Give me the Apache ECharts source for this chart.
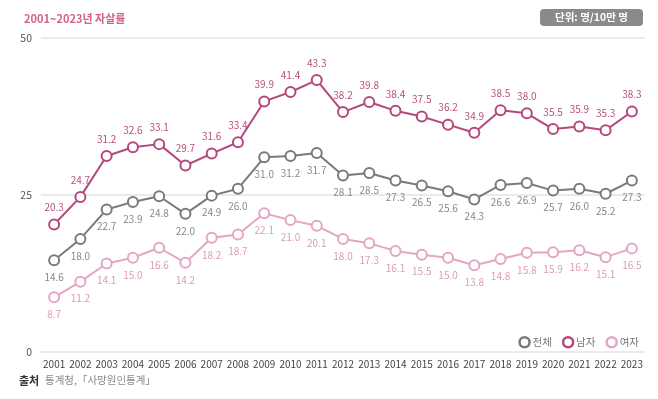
<!DOCTYPE html>
<html><head><meta charset="utf-8">
<script src="https://cdn.jsdelivr.net/npm/echarts@6/dist/echarts.min.js"></script>
<style>html,body{margin:0;padding:0;background:#fff}#c{width:658px;height:399px}</style>
</head><body><div id="c"></div>
<script>
const years = ['2001','2002','2003','2004','2005','2006','2007','2008','2009','2010','2011','2012','2013','2014','2015','2016','2017','2018','2019','2020','2021','2022','2023'];
const total = [14.6,18.0,22.7,23.9,24.8,22.0,24.9,26.0,31.0,31.2,31.7,28.1,28.5,27.3,26.5,25.6,24.3,26.6,26.9,25.7,26.0,25.2,27.3];
const male = [20.3,24.7,31.2,32.6,33.1,29.7,31.6,33.4,39.9,41.4,43.3,38.2,39.8,38.4,37.5,36.2,34.9,38.5,38.0,35.5,35.9,35.3,38.3];
const female = [8.7,11.2,14.1,15.0,16.6,14.2,18.2,18.7,22.1,21.0,20.1,18.0,17.3,16.1,15.5,15.0,13.8,14.8,15.8,15.9,16.2,15.1,16.5];
const yTicks = [0,25,50];

const font = 'Noto Sans CJK KR';
const chart = echarts.init(document.getElementById('c'));
function ser(name, data, color, labelColor, pos) {
  return {
    name, type: 'line', data,
    symbol: 'circle', symbolSize: 10,
    lineStyle: {color, width: 2},
    itemStyle: {color: '#fff', borderColor: color, borderWidth: 2},
    label: {show: true, position: pos, distance: 6, color: labelColor, fontSize: 10, fontFamily: font,
      formatter: p => p.value.toFixed(1)},
    emphasis: {disabled: true},
    z: 3
  };
}
chart.setOption({
  animation: false,
  textStyle: {fontFamily: font},
  title: [{
    text: '2001~2023년 자살률', left: 19, top: 8,
    textStyle: {color: '#d4608f', fontSize: 11, fontWeight: 'bold', fontFamily: font}
  }],
  graphic: [{
    type: 'group', right: 15, top: 9,
    children: [
      {type: 'rect', shape: {x: 0, y: 0, width: 103, height: 17, r: 4}, style: {fill: '#8a8a8a'}},
      {type: 'text', x: 51.5, y: 8.5, style: {text: '단위: 명/10만 명', fill: '#fff', font: 'bold 10.5px "Noto Sans CJK KR"', align: 'center', verticalAlign: 'middle'}}
    ]
  }, {
    type: 'text', left: 19, top: 375,
    style: {text: '출처', fill: '#333', font: 'bold 11px "Noto Sans CJK KR"'}
  }, {
    type: 'text', left: 45, top: 375,
    style: {text: '통계청,「사망원인통계」', fill: '#888', font: '10.5px "Noto Sans CJK KR"'}
  }],
  legend: {
    right: 14, top: 331, itemGap: 10, itemWidth: 10, itemHeight: 10,
    icon: 'circle',
    textStyle: {fontSize: 10.5, color: '#777', fontFamily: font, padding: [0,0,0,-2]},
    data: [
      {name: '전체', itemStyle: {color: '#fff', borderColor: '#7a7a7a', borderWidth: 2.5}},
      {name: '남자', itemStyle: {color: '#fff', borderColor: '#b4487c', borderWidth: 2.5}},
      {name: '여자', itemStyle: {color: '#fff', borderColor: '#e3a6c4', borderWidth: 2.5}}
    ]
  },
  grid: {left: 41, right: 13, top: 38, bottom: 47},
  xAxis: {
    type: 'category', data: years, boundaryGap: true,
    axisLine: {show: false}, axisTick: {show: false},
    axisLabel: {color: '#444', fontSize: 10, margin: 7, interval: 0, fontFamily: font}
  },
  yAxis: {
    type: 'value', min: 0, max: 50, interval: 25,
    axisLabel: {color: '#555', fontSize: 10.5, margin: 9, fontFamily: font,
      formatter: v => yTicks.includes(v) ? String(v) : ''},
    splitLine: {lineStyle: {color: '#e3e3e3', width: 1.5}},
    axisLine: {show: false}, axisTick: {show: false}
  },
  series: [
    ser('전체', total, '#7a7a7a', '#888', 'bottom'),
    ser('남자', male, '#b4487c', '#b5507f', 'top'),
    ser('여자', female, '#e3a6c4', '#d99dbb', 'bottom')
  ]
});
</script></body></html>
